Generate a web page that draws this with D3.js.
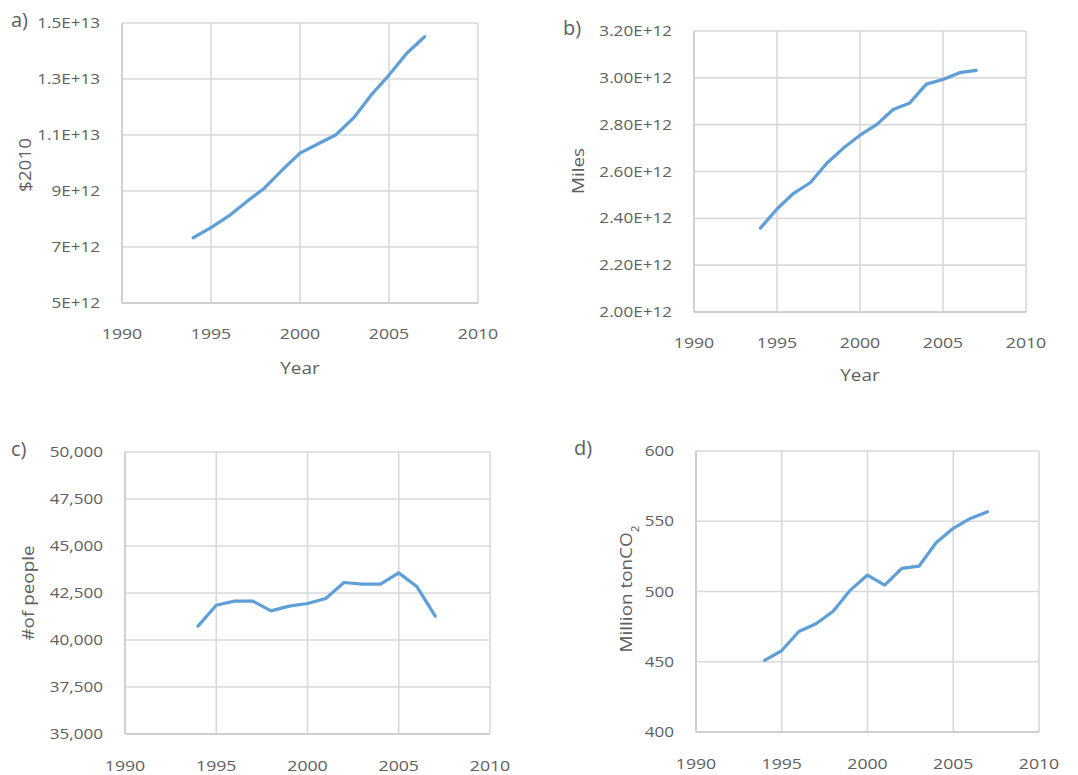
<!DOCTYPE html>
<html>
<head>
<meta charset="utf-8">
<script src="https://cdn.jsdelivr.net/npm/d3@7"></script>
<style>
  body { margin: 0; background: #ffffff; }
  svg { display: block; }
  text { font-family: "Open Sans", sans-serif; fill: #606060; }
</style>
</head>
<body>
<svg id="chart" width="1078" height="775"></svg>
<script>
// ---------------- data ----------------
const years = [1994, 1995, 1996, 1997, 1998, 1999, 2000, 2001, 2002, 2003, 2004, 2005, 2006, 2007];
const xTicks = [1990, 1995, 2000, 2005, 2010];

// a) GDP, $2010
const gdpValues = [7.33e12, 7.69e12, 8.11e12, 8.62e12, 9.10e12, 9.75e12, 10.35e12, 10.68e12, 11.0e12, 11.6e12, 12.43e12, 13.14e12, 13.92e12, 14.51e12];
const gdpTicks = [5e12, 7e12, 9e12, 1.1e13, 1.3e13, 1.5e13];
const gdpTickLabels = ["5E+12", "7E+12", "9E+12", "1.1E+13", "1.3E+13", "1.5E+13"];

// b) Vehicle miles travelled
const milesValues = [2.358e12, 2.44e12, 2.507e12, 2.552e12, 2.635e12, 2.70e12, 2.755e12, 2.80e12, 2.865e12, 2.893e12, 2.973e12, 2.993e12, 3.022e12, 3.032e12];
const milesTicks = [2.0e12, 2.2e12, 2.4e12, 2.6e12, 2.8e12, 3.0e12, 3.2e12];
const milesTickLabels = ["2.00E+12", "2.20E+12", "2.40E+12", "2.60E+12", "2.80E+12", "3.00E+12", "3.20E+12"];

// c) # of people
const peopleValues = [40740, 41850, 42070, 42070, 41550, 41800, 41940, 42210, 43060, 42970, 42970, 43570, 42830, 41270];
const peopleTicks = [35000, 37500, 40000, 42500, 45000, 47500, 50000];
const peopleTickLabels = ["35,000", "37,500", "40,000", "42,500", "45,000", "47,500", "50,000"];

// d) Million ton CO2
const co2Values = [450.9, 458, 471.5, 477, 486, 501, 511.7, 504.6, 516.4, 518, 534.7, 545, 552, 556.7];
const co2Ticks = [400, 450, 500, 550, 600];
const co2TickLabels = ["400", "450", "500", "550", "600"];

// ---------------- layout ----------------
const panels = [
  { tag: "a)", values: gdpValues, ticks: gdpTicks, labels: gdpTickLabels, title: "$2010",
    box: { x0: 122, x1: 478, y0: 23, y1: 303 }, tagPos: [11, 27], yTitlePos: [25, 165],
    xLabelY: 339, xTitle: true, xTitleY: 374 },
  { tag: "b)", values: milesValues, ticks: milesTicks, labels: milesTickLabels, title: "Miles",
    box: { x0: 694, x1: 1026, y0: 31, y1: 312 }, tagPos: [563, 35], yTitlePos: [578, 171],
    xLabelY: 348, xTitle: true, xTitleY: 381 },
  { tag: "c)", values: peopleValues, ticks: peopleTicks, labels: peopleTickLabels, title: "#of people",
    box: { x0: 125, x1: 490, y0: 452, y1: 734 }, tagPos: [11, 456], yTitlePos: [28, 593],
    xLabelY: 771, xTitle: false },
  { tag: "d)", values: co2Values, ticks: co2Ticks, labels: co2TickLabels, title: "CO2",
    box: { x0: 696, x1: 1039, y0: 451, y1: 732 }, tagPos: [574, 455], yTitlePos: [626, 589],
    xLabelY: 769, xTitle: false }
];

const svg = d3.select("#chart");
const gridColor = "#d9d9d9";
const lineColor = "#5f9fd7";
const sx = 1.18; // horizontal stretch of the reference lettering

function stretchedText(g, px, py, anchor, size, str) {
  return g.append("text")
    .attr("transform", `translate(${px},${py}) scale(${sx},1)`)
    .attr("text-anchor", anchor)
    .attr("font-size", size)
    .text(str);
}

panels.forEach(p => {
  const b = p.box;
  const x = d3.scaleLinear().domain([xTicks[0], xTicks[xTicks.length - 1]]).range([b.x0, b.x1]);
  const y = d3.scaleLinear().domain([p.ticks[0], p.ticks[p.ticks.length - 1]]).range([b.y1, b.y0]);
  const g = svg.append("g");

  // horizontal gridlines
  g.selectAll("line.hg").data(p.ticks).join("line")
    .attr("x1", b.x0).attr("x2", b.x1)
    .attr("y1", d => y(d)).attr("y2", d => y(d))
    .attr("stroke", gridColor).attr("stroke-width", 1.6);
  // vertical gridlines
  g.selectAll("line.vg").data(xTicks).join("line")
    .attr("x1", d => x(d)).attr("x2", d => x(d))
    .attr("y1", b.y0).attr("y2", b.y1)
    .attr("stroke", gridColor).attr("stroke-width", 1.6);
  // axis lines (slightly darker)
  g.append("line").attr("x1", b.x0).attr("x2", b.x1).attr("y1", b.y1).attr("y2", b.y1)
    .attr("stroke", "#cfcfcf").attr("stroke-width", 1.8);
  g.append("line").attr("x1", b.x0).attr("x2", b.x0).attr("y1", b.y0).attr("y2", b.y1)
    .attr("stroke", "#cfcfcf").attr("stroke-width", 1.8);

  // y tick labels
  p.ticks.forEach((t, i) => {
    stretchedText(g, b.x0 - 22, y(t) + 5, "end", 14.5, p.labels[i]);
  });

  // x tick labels
  xTicks.forEach(t => {
    stretchedText(g, x(t), p.xLabelY, "middle", 15, t);
  });

  // x title
  if (p.xTitle) {
    stretchedText(g, (b.x0 + b.x1) / 2, p.xTitleY, "middle", 16, "Year");
  }

  // y title
  const yt = g.append("text")
    .attr("transform", `translate(${p.yTitlePos[0]},${p.yTitlePos[1]}) rotate(-90) scale(${sx},1)`)
    .attr("text-anchor", "middle").attr("dy", "0.35em")
    .attr("font-size", 16);
  if (p.title === "CO2") {
    yt.append("tspan").text("Million tonCO");
    yt.append("tspan").attr("font-size", 10).attr("baseline-shift", "sub").text("2");
  } else {
    yt.text(p.title);
  }

  // panel tag
  g.append("text").attr("x", p.tagPos[0]).attr("y", p.tagPos[1])
    .attr("font-size", 20).text(p.tag);

  // data line
  const line = d3.line().x((d, i) => x(years[i])).y(d => y(d));
  g.append("path").datum(p.values)
    .attr("d", line)
    .attr("fill", "none")
    .attr("stroke", lineColor)
    .attr("stroke-width", 3.2)
    .attr("stroke-linejoin", "round")
    .attr("stroke-linecap", "round");
});
</script>
</body>
</html>
